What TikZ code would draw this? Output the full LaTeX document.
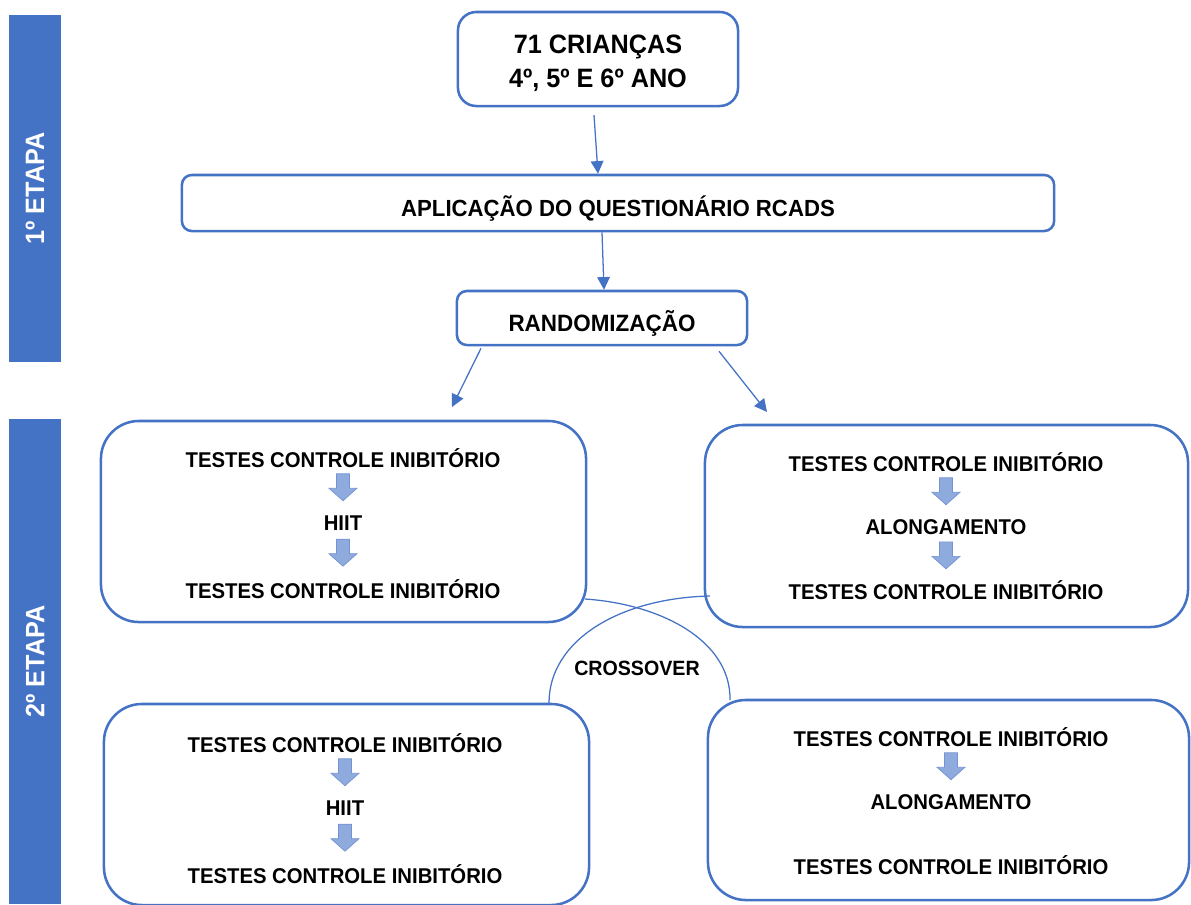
\documentclass[tikz,border=0pt]{standalone}
\usepackage{fontspec}
\setmainfont{Liberation Sans}[FakeStretch=0.95]
\usepackage{tikz}
\usetikzlibrary{arrows.meta,positioning,calc}
\definecolor{boxblue}{HTML}{4472C4}
\definecolor{arrfill}{HTML}{8FAADC}
\definecolor{arrdraw}{HTML}{7394D4}

\begin{document}
\begin{tikzpicture}[x=0.025cm, y=-0.025cm, >={Triangle[length=9pt,width=9pt]},
  box/.style={draw=boxblue, line width=1.8pt, rounded corners=#1, align=center, inner sep=0pt},
  box/.default=7pt,
  txt/.style={font=\fontsize{15.2}{17}\selectfont\bfseries, inner sep=0pt},
  etapa/.style={fill=boxblue, text=white, rotate=90, minimum height=1.3cm, inner sep=0pt,
    font=\fontsize{18.9}{20}\selectfont\bfseries},
  link/.style={->, draw=boxblue, line width=0.9pt},
  cross/.style={draw=boxblue, line width=0.9pt},
  downarr/.pic={\draw[draw=arrdraw, fill=arrfill, line width=0.5pt]
    (-6.5,-13.5) -- (6.5,-13.5) -- (6.5,1) -- (14,1) -- (0,13.5) -- (-14,1) -- (-6.5,1) -- cycle;}]
  \useasboundingbox (0,0) rectangle (1191,904);

  % stage bars
  \node[etapa, minimum width=8.675cm] (e1) at (35,188.5) {1º ETAPA};
  \node[etapa, minimum width=12.125cm] (e2) at (35,661.5) {2º ETAPA};

  % first stage
  \node[box=13pt, minimum width=7cm, minimum height=2.35cm] (kids) at (598,59) {};
  \node[txt, font=\fontsize{18.9}{20}\selectfont\bfseries, text height=13.5pt, text depth=0pt] (kids1) at (598,44) {71 CRIANÇAS};
  \node[txt, font=\fontsize{18.9}{20}\selectfont\bfseries, text height=13.5pt, text depth=0pt] (kids2) at (598,78) {4º, 5º E 6º ANO};
  \node[box, minimum width=21.8cm, minimum height=1.4cm, text height=19.1pt, text depth=0pt,
    font=\fontsize{16.6}{18}\selectfont\bfseries] (apl) at (618,203) {APLICAÇÃO DO QUESTIONÁRIO RCADS};
  \node[box, minimum width=7.25cm, minimum height=1.35cm, text height=19.2pt, text depth=0pt,
    font=\fontsize{16.8}{18}\selectfont\bfseries] (rand) at (602,318) {RANDOMIZAÇÃO};

  \coordinate (ka) at (594,115);
  \coordinate (r1) at (452,407);
  \coordinate (r2) at (767,412);
  \draw[link] (ka) -- ($(apl.north)+(-20,0)$);
  \draw[link] ($(apl.south)+(-16,0)$) -- ($(rand.north)+(2,0)$);
  \draw[link] ($(rand.south)+(-121,2)$) -- (r1);
  \draw[link] ($(rand.south)+(117,5)$) -- (r2);

  % second stage, boxes
  \node[box=27pt, minimum width=12.125cm, minimum height=5.025cm] (tl) at (343.5,521.5) {};
  \node[box=27pt, minimum width=12.075cm, minimum height=5.05cm] (tr) at (946.5,526) {};
  \node[box=27pt, minimum width=12.125cm, minimum height=5.025cm] (bl) at (346.5,804.5) {};
  \node[box=27pt, minimum width=12.025cm, minimum height=5cm] (br) at (948.5,800) {};

  % box texts
  \node[txt] (tl1) at (343,458) {TESTES CONTROLE INIBITÓRIO};
  \node[txt] (tl2) at (343,523) {HIIT};
  \node[txt] (tl3) at (343,589) {TESTES CONTROLE INIBITÓRIO};
  \node[txt] (tr1) at (946,462) {TESTES CONTROLE INIBITÓRIO};
  \node[txt] (tr2) at (946,527) {ALONGAMENTO};
  \node[txt] (tr3) at (946,590) {TESTES CONTROLE INIBITÓRIO};
  \node[txt] (bl1) at (345,743) {TESTES CONTROLE INIBITÓRIO};
  \node[txt] (bl2) at (345,808) {HIIT};
  \node[txt] (bl3) at (345,874) {TESTES CONTROLE INIBITÓRIO};
  \node[txt] (br1) at (951,737) {TESTES CONTROLE INIBITÓRIO};
  \node[txt] (br2) at (951,802) {ALONGAMENTO};
  \node[txt] (br3) at (951,865) {TESTES CONTROLE INIBITÓRIO};

  % block arrows
  \pic at ($(tl1)!0.45!(tl2)$) {downarr};
  \pic at ($(tl2)!0.45!(tl3)$) {downarr};
  \pic at ($(tr1)!0.45!(tr2)$) {downarr};
  \pic at ($(tr2)!0.45!(tr3)$) {downarr};
  \pic at ($(bl1)!0.45!(bl2)$) {downarr};
  \pic at ($(bl2)!0.45!(bl3)$) {downarr};
  \pic at ($(br1)!0.45!(br2)$) {downarr};

  % crossover
  \coordinate (c1) at (585,599);
  \coordinate (c2) at (730,700);
  \coordinate (c3) at (710,596);
  \coordinate (c4) at (549,703);
  \draw[cross] (c1) .. controls (660,604) and (731,640) .. (c2);
  \draw[cross] (c3) .. controls (620,598) and (549,640) .. (c4);
  \node[txt, font=\fontsize{14.7}{16}\selectfont\bfseries] (cx) at (637,668) {CROSSOVER};

\end{tikzpicture}
\end{document}
